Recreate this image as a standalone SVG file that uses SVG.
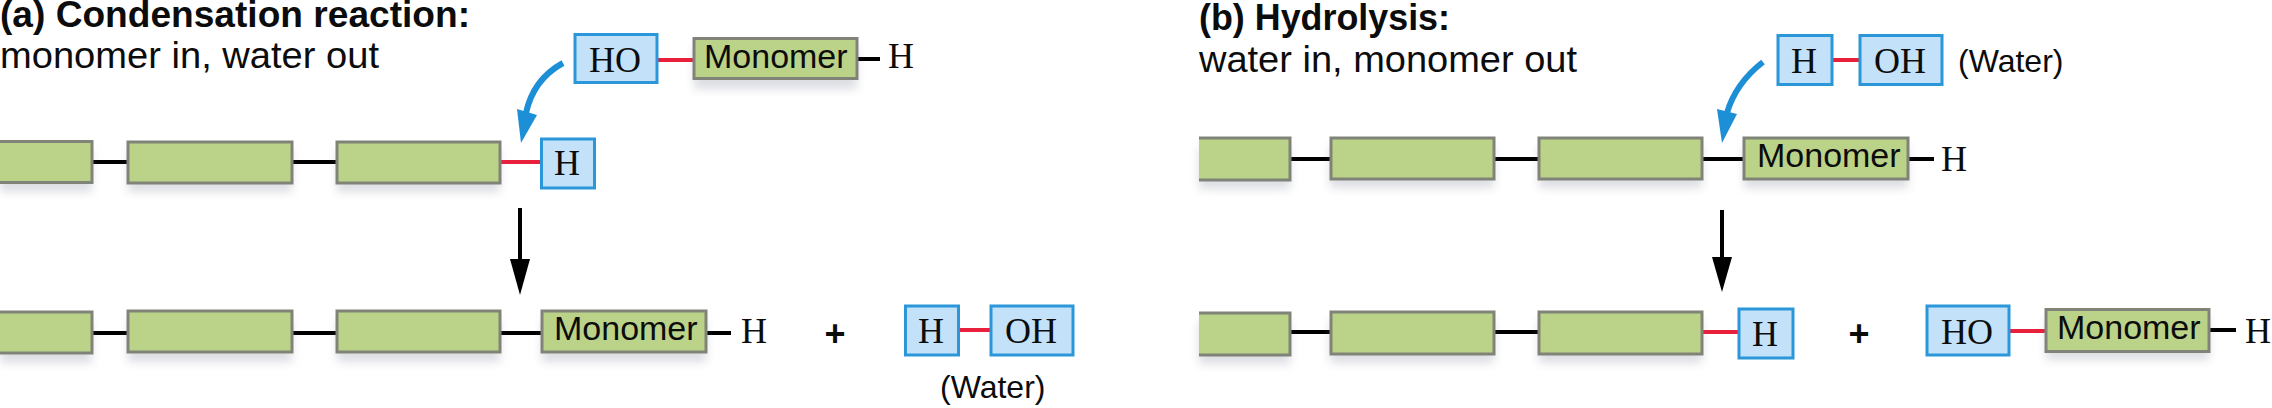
<svg xmlns="http://www.w3.org/2000/svg" width="2272" height="408" viewBox="0 0 2272 408">
<style>
.m{fill:#bbd388;stroke:#808478;stroke-width:3}
.o{fill:#bbd388}
.e{fill:none;stroke:#808478;stroke-width:3}
.s{fill:#70748a;opacity:.24;filter:url(#b)}
.w{fill:#c3e2fa;stroke:#2b96d8;stroke-width:3}
.k{stroke:#000;stroke-width:4;fill:none}
.r{stroke:#e8203c;stroke-width:4;fill:none}
.t{font-family:"Liberation Sans",Arial,sans-serif;font-size:34px;fill:#0c0c0c}
.d{font-family:"Liberation Sans",Arial,sans-serif;font-size:37px;fill:#0c0c0c}
.h{font-family:"Liberation Sans",Arial,sans-serif;font-size:36px;font-weight:bold;fill:#0c0c0c}
.c{font-family:"Liberation Serif","Times New Roman",serif;font-size:36px;fill:#0c0c0c;text-anchor:middle}
.l{font-family:"Liberation Sans",Arial,sans-serif;font-size:32px;fill:#0c0c0c}
.p{font-family:"Liberation Sans",Arial,sans-serif;font-size:36px;font-weight:bold;fill:#0c0c0c;text-anchor:middle}
.ba{fill:none;stroke:#1d8fd6;stroke-width:6}
.bh{fill:#1d8fd6}
</style>
<defs><filter id="b" x="-20%" y="-60%" width="140%" height="220%"><feGaussianBlur stdDeviation="5"/></filter></defs>

<g id="labels">
<text class="h" x="0" y="27" textLength="470" lengthAdjust="spacingAndGlyphs">(a) Condensation reaction:</text>
<text class="d" x="0" y="68" textLength="379" lengthAdjust="spacingAndGlyphs">monomer in, water out</text>
<text class="h" x="1199" y="30" textLength="251" lengthAdjust="spacingAndGlyphs">(b) Hydrolysis:</text>
<text class="d" x="1199" y="72" textLength="378" lengthAdjust="spacingAndGlyphs">water in, monomer out</text>
<text class="l" x="940" y="398">(Water)</text>
<text class="l" x="1958" y="72">(Water)</text>
<text class="p" x="835" y="346">+</text>
<text class="p" x="1859" y="346">+</text>
</g>

<g id="connectors">
<path class="r" d="M657 60H694"/><path class="k" d="M857 59H880"/>
<path class="k" d="M92 162H128M292 162H337"/><path class="r" d="M500 162H541"/>
<path class="k" d="M92 333H128M292 333H337M500 333H541M706 333H731"/>
<path class="r" d="M959 330H990"/>
<path class="r" d="M1832 60H1859"/>
<path class="k" d="M1290 159H1330M1494 159H1539M1702 159H1744M1908 159H1934"/>
<path class="k" d="M1290 332H1330M1494 332H1539"/><path class="r" d="M1702 332H1738M2009 331H2046"/>
<path class="k" d="M2209 330H2236"/>
<path class="ba" d="M563 63C543 74 531 90 526 113"/><polygon class="bh" points="517,109 537,115 521,143"/>
<path class="ba" d="M1763 62C1745 76 1733 92 1727 113"/><polygon class="bh" points="1717,109 1737,114 1722,143"/>
<path class="k" d="M520 208V260"/><polygon points="510,259 530,259 520,295"/>
<path class="k" d="M1722 210V258"/><polygon points="1712,257 1732,257 1722,292"/>
</g>

<g id="chain-a-top">
<rect class="s" x="0" y="150" width="92" height="42"/><rect class="s" x="128" y="150" width="164" height="42"/><rect class="s" x="337" y="150" width="163" height="42"/>
<rect class="o" x="0" y="141.500" width="92" height="41"/><path class="e" d="M0 141.500H92V182.500H0"/><rect class="m" x="128" y="142" width="164" height="41"/><rect class="m" x="337" y="142" width="163" height="41"/>
</g>
<g id="h-a-top"><rect class="w" x="541.500" y="139" width="53" height="49"/><text class="c" x="567" y="175">H</text></g>
<g id="ho-a-top"><rect class="w" x="575" y="34.500" width="82" height="48"/><text class="c" x="615" y="72">HO</text></g>
<g id="monomer-a-top"><rect class="s" x="694" y="47" width="163" height="42"/><rect class="m" x="694" y="38.500" width="163" height="40"/><text class="t" x="704" y="68">Monomer</text><text class="c" x="901" y="68">H</text></g>

<g id="chain-a-bottom">
<rect class="s" x="0" y="321" width="92" height="42"/><rect class="s" x="128" y="320" width="164" height="42"/><rect class="s" x="337" y="320" width="163" height="42"/>
<rect class="o" x="0" y="312" width="92" height="41"/><path class="e" d="M0 312H92V353H0"/><rect class="m" x="128" y="311" width="164" height="41"/><rect class="m" x="337" y="311" width="163" height="41"/>
</g>
<g id="monomer-a-bottom"><rect class="s" x="542" y="320" width="164" height="42"/><rect class="m" x="542" y="311" width="164" height="41"/><text class="t" x="554" y="340">Monomer</text><text class="c" x="754" y="343">H</text></g>
<g id="water-a"><rect class="w" x="905.500" y="306" width="53" height="49"/><text class="c" x="931" y="343">H</text><rect class="w" x="991" y="306" width="82" height="49"/><text class="c" x="1031" y="343">OH</text></g>

<g id="water-b"><rect class="w" x="1778" y="35.500" width="54" height="49"/><text class="c" x="1804" y="73">H</text><rect class="w" x="1860" y="35.500" width="82" height="49"/><text class="c" x="1900" y="73">OH</text></g>
<g id="chain-b-top">
<rect class="s" x="1199" y="147" width="91" height="42"/><rect class="s" x="1330" y="146" width="164" height="42"/><rect class="s" x="1539" y="146" width="163" height="42"/>
<rect class="o" x="1199" y="138" width="91" height="42"/><path class="e" d="M1199 138H1290V180H1199"/><rect class="m" x="1331" y="138" width="163" height="41"/><rect class="m" x="1539" y="138" width="163" height="41"/>
</g>
<g id="monomer-b-top"><rect class="s" x="1744" y="146" width="164" height="42"/><rect class="m" x="1744" y="138" width="164" height="41"/><text class="t" x="1757" y="167">Monomer</text><text class="c" x="1954" y="171">H</text></g>

<g id="chain-b-bottom">
<rect class="s" x="1199" y="322" width="91" height="42"/><rect class="s" x="1330" y="321" width="164" height="42"/><rect class="s" x="1539" y="321" width="163" height="42"/>
<rect class="o" x="1199" y="313" width="91" height="42"/><path class="e" d="M1199 313H1290V355H1199"/><rect class="m" x="1331" y="312" width="163" height="42"/><rect class="m" x="1539" y="312" width="163" height="42"/>
</g>
<g id="h-b-bottom"><rect class="w" x="1739" y="309" width="54" height="49"/><text class="c" x="1765" y="346">H</text></g>
<g id="ho-b-bottom"><rect class="w" x="1927" y="306" width="82" height="49"/><text class="c" x="1967" y="344">HO</text></g>
<g id="monomer-b-bottom"><rect class="s" x="2046" y="318" width="163" height="42"/><rect class="m" x="2046" y="309.500" width="163" height="42"/><text class="t" x="2057" y="339">Monomer</text><text class="c" x="2258" y="343">H</text></g>
</svg>
